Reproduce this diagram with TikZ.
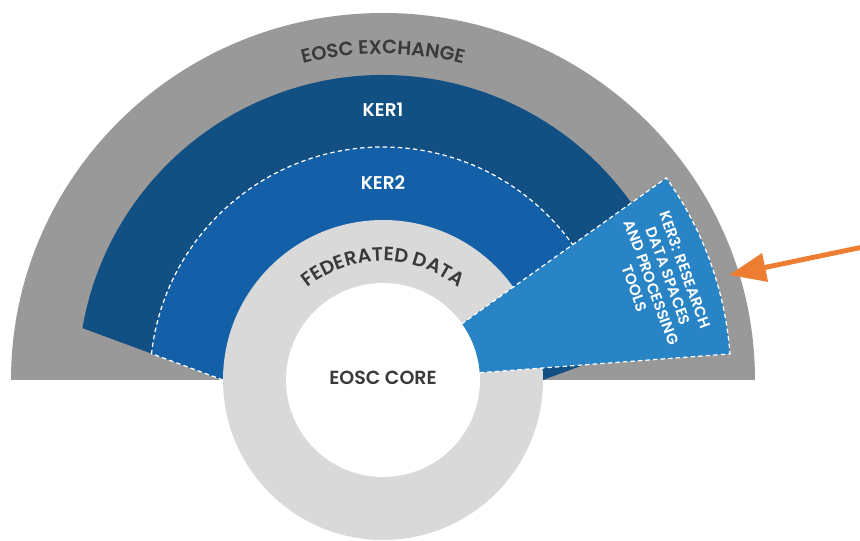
\documentclass[tikz,border=0pt]{standalone}
\usepackage{fontspec}
\setmainfont{Poppins}[BoldFont={Poppins SemiBold}]
\usetikzlibrary{arrows.meta, decorations.text}
\definecolor{exchgray}{HTML}{999999}
\definecolor{fedgray}{HTML}{D9D9D9}
\definecolor{kerone}{HTML}{124F82}
\definecolor{kertwo}{HTML}{1460A8}
\definecolor{kerthree}{HTML}{2884C4}
\definecolor{darktext}{HTML}{3A3A3A}
\definecolor{arroworange}{HTML}{ED7D31}

\begin{document}
\begin{tikzpicture}[x=0.02cm, y=0.02cm, ker/.style={text=white, font=\fontsize{10.5}{12}\selectfont\bfseries}, core/.style={text=darktext, font=\fontsize{10.8}{12}\selectfont\bfseries}, kerthreetxt/.style={text=white, font=\fontsize{8.6}{10.2}\selectfont\bfseries, align=center, rotate=-70}, rim/.style={draw=white, dash pattern=on 2.5pt off 1.8pt, line width=0.7pt}, pointer/.style={-{Triangle[length=21pt, width=16pt]}, line width=2.8pt, draw=arroworange}, bent/.style={decorate, decoration={text along path, text align=center, text color=darktext}}]
            \useasboundingbox (-383,-161) rectangle (477,380);
            % rings
            \fill[exchgray] (372,0) arc[start angle=0, end angle=180, x radius=372, y radius=367] -- cycle;
            \fill[kerone] (-160,0) -- (170.2:305) arc[start angle=170.2, end angle=9.8, radius=305] -- (160,0) -- cycle;
            \fill[kertwo] (-160,0) -- (173.5:233) arc[start angle=173.5, end angle=20, radius=233] -- (20:150) -- cycle;
            \draw[rim] (-160,0) -- (173.5:233) arc[start angle=173.5, end angle=20, radius=233];
            \fill[fedgray] (0,0) circle[radius=160];
            \fill[white] (0,0) circle[radius=97];
            \fill[kerthree] (4.3:97) -- (4.3:348) arc[start angle=4.3, end angle=35.5, radius=348] -- (35.5:97) arc[start angle=35.5, end angle=4.3, radius=97] -- cycle;
            \draw[rim] (4.3:97) -- (4.3:348) arc[start angle=4.3, end angle=35.5, radius=348] -- (35.5:97);
            % curved labels
            \path[bent, decoration={text={|\fontsize{11}{13}\selectfont\bfseries|EOSC EXCHANGE}}] (110:326) arc[start angle=110, end angle=70, radius=326];
            \path[bent, decoration={text={|\fontsize{11}{13}\selectfont\bfseries|FEDERATED DATA}}] (150:119) arc[start angle=150, end angle=30, radius=119];
            % nodes
            \node[ker] (ker1) at (0,270) {KER1};
            \node[ker] (ker2) at (0,197) {KER2};
            \node[core] (core) at (0,2) {EOSC CORE};
            \node[kerthreetxt] (ker3) at (20:295) {KER3: RESEARCH\\DATA SPACES\\AND PROCESSING\\TOOLS};
            \coordinate (ker3rim) at (346,105);
            \coordinate (outside) at (480,133);
            % edges
            \draw[pointer] (outside) -- (ker3rim);
        \end{tikzpicture}
\end{document}
